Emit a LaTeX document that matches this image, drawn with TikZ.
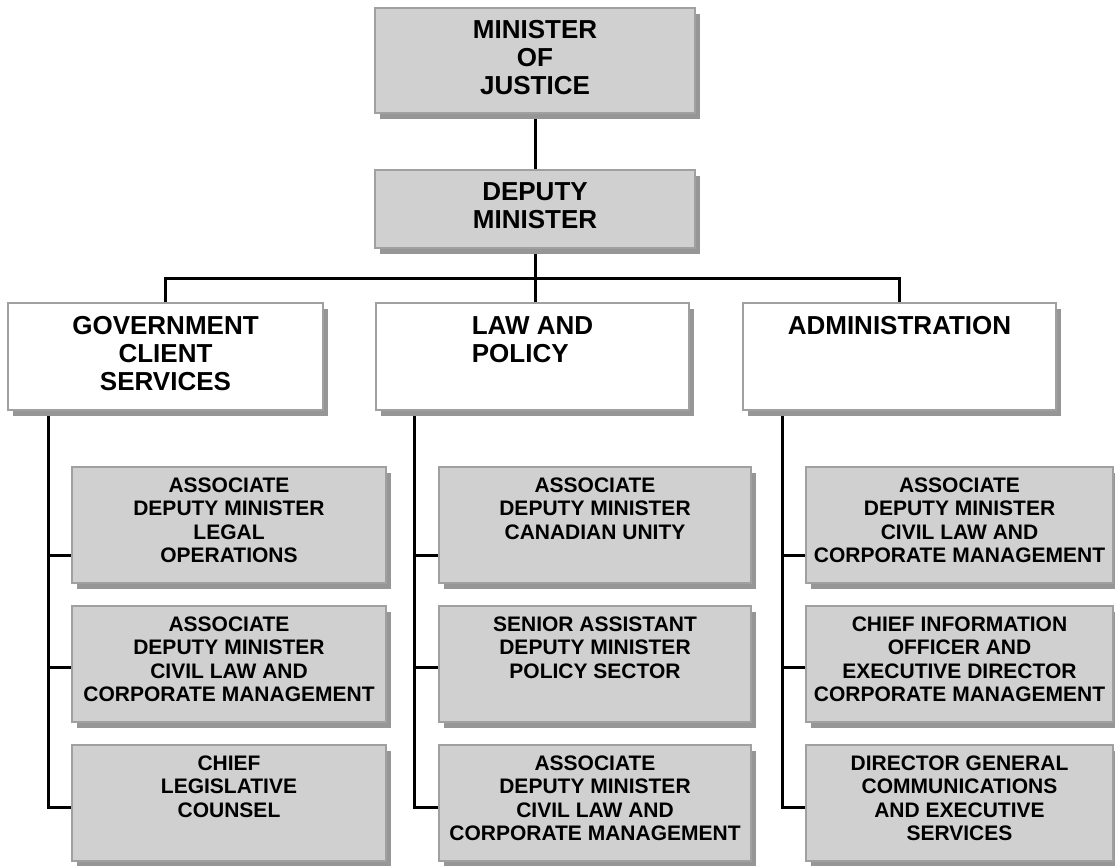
\documentclass[tikz,border=0pt]{standalone}
\usepackage{fontspec}
\setmainfont{Liberation Sans}
\usetikzlibrary{shadows}

\definecolor{boxfill}{RGB}{208,208,208}
\definecolor{boxedge}{RGB}{160,160,160}
\definecolor{boxshade}{RGB}{150,150,150}

\pgfdeclarelayer{background}
\pgfsetlayers{background,main}

% fixed-size card: width, height, first-baseline strut, font, text
\newcommand\cardtext[5]{\parbox[t][#2][t]{#1}{#4\centering\rule{0pt}{#3}#5}}
\newcommand\bigtype{\fontsize{26}{28.3}\selectfont\bfseries}
\newcommand\smalltype{\fontsize{21}{23.4}\selectfont\bfseries}
\newlength\lawwidth

\tikzset{
  card/.style={draw=boxedge, line width=1.2pt, inner sep=0pt, outer sep=0pt,
    anchor=north west,
    drop shadow={shadow xshift=5pt, shadow yshift=-6pt, fill=boxshade, opacity=1}},
  grey card/.style={card, fill=boxfill},
  white card/.style={card, fill=white},
  link/.style={line width=3pt, draw=black},
}

\begin{document}
\begin{tikzpicture}[x=1pt,y=-1pt]
\useasboundingbox (0,0) rectangle (1115,865);

% top of the hierarchy
\node[grey card] (min) at (375,8)
  {\cardtext{320pt}{105pt}{30pt}{\bigtype}{MINISTER\\OF\\JUSTICE}};
\node[grey card] (dep) at (375,170)
  {\cardtext{320pt}{78pt}{30pt}{\bigtype}{DEPUTY\\MINISTER}};

% branches
\node[white card] (g) at (8,303)
  {\cardtext{315pt}{107pt}{31pt}{\bigtype}{GOVERNMENT\\CLIENT\\SERVICES}};
\node[white card] (l) at (376,303)
  {\cardtext{313pt}{107pt}{31pt}{\bigtype}{\settowidth{\lawwidth}{LAW AND}LAW AND\\\makebox[\lawwidth][l]{POLICY}}};
\node[white card] (a) at (743,303)
  {\cardtext{313pt}{107pt}{31pt}{\bigtype}{ADMINISTRATION}};

% units under Government Client Services
\node[grey card] (g1) at (72,467)
  {\cardtext{314pt}{116pt}{25.5pt}{\smalltype}{ASSOCIATE\\DEPUTY MINISTER\\LEGAL\\OPERATIONS}};
\node[grey card] (g2) at (72,606)
  {\cardtext{314pt}{116pt}{25.5pt}{\smalltype}{ASSOCIATE\\DEPUTY MINISTER\\CIVIL LAW AND\\CORPORATE MANAGEMENT}};
\node[grey card] (g3) at (72,745)
  {\cardtext{314pt}{116pt}{25.5pt}{\smalltype}{CHIEF\\LEGISLATIVE\\COUNSEL}};

% units under Law and Policy
\node[grey card] (l1) at (439,467)
  {\cardtext{312pt}{116pt}{25.5pt}{\smalltype}{ASSOCIATE\\DEPUTY MINISTER\\CANADIAN UNITY}};
\node[grey card] (l2) at (439,606)
  {\cardtext{312pt}{116pt}{25.5pt}{\smalltype}{SENIOR ASSISTANT\\DEPUTY MINISTER\\POLICY SECTOR}};
\node[grey card] (l3) at (439,745)
  {\cardtext{312pt}{116pt}{25.5pt}{\smalltype}{ASSOCIATE\\DEPUTY MINISTER\\CIVIL LAW AND\\CORPORATE MANAGEMENT}};

% units under Administration
\node[grey card] (a1) at (806,467)
  {\cardtext{307pt}{116pt}{25.5pt}{\smalltype}{ASSOCIATE\\DEPUTY MINISTER\\CIVIL LAW AND\\CORPORATE MANAGEMENT}};
\node[grey card] (a2) at (806,606)
  {\cardtext{307pt}{116pt}{25.5pt}{\smalltype}{CHIEF INFORMATION\\OFFICER AND\\EXECUTIVE DIRECTOR\\CORPORATE MANAGEMENT}};
\node[grey card] (a3) at (806,745)
  {\cardtext{307pt}{116pt}{25.5pt}{\smalltype}{DIRECTOR GENERAL\\COMMUNICATIONS\\AND EXECUTIVE\\SERVICES}};

% connectors, kept behind the cards
\begin{pgfonlayer}{background}
  \draw[link] (min.south) -- (dep.north);
  \coordinate (bus) at ([yshift=-30pt]dep.south);
  \draw[link] (dep.south) -- (dep.south |- l.north);
  \draw[link] (g.north) |- (bus) -| (a.north);

  \coordinate (g-s) at ([xshift=40pt]g.south west);
  \coordinate (l-s) at ([xshift=38pt]l.south west);
  \coordinate (a-s) at ([xshift=39pt]a.south west);
  \foreach \c in {g,l,a} {
    \coordinate (\c-b1) at ([yshift=-88pt]\c1.north west);
    \coordinate (\c-b2) at ([yshift=-61pt]\c2.north west);
    \coordinate (\c-b3) at ([yshift=-62pt]\c3.north west);
    \draw[link] (\c-s) |- (\c-b3);
    \draw[link] (\c-b1) -- (\c-s |- \c-b1);
    \draw[link] (\c-b2) -- (\c-s |- \c-b2);
  }
\end{pgfonlayer}
\end{tikzpicture}
\end{document}
